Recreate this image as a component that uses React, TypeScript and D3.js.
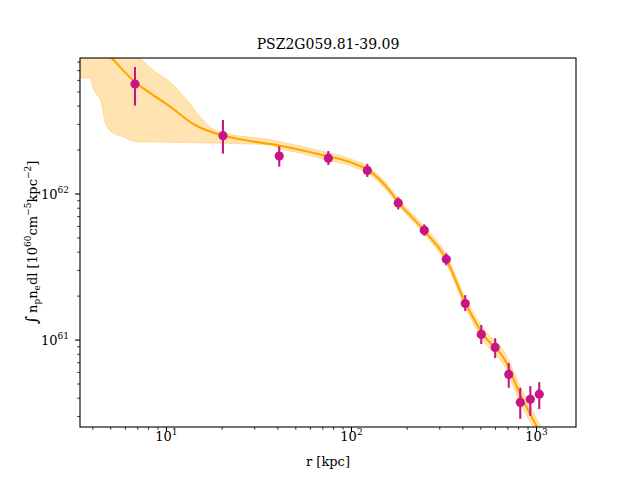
import React from "react";
import * as d3 from "d3";

// Measured emission-measure profile (radius in kpc, values in cm^-5 kpc^-2)
const radius = [6.76, 20.2, 40.7, 75.0, 121.8, 179, 247.5, 325.5, 412, 503, 598, 708, 817, 926, 1035];
const value = [5.67e62, 2.51e62, 1.82e62, 1.76e62, 1.45e62, 8.68e61, 5.64e61, 3.57e61, 1.78e61, 1.094e61, 8.9e60, 5.82e60, 3.74e60, 3.93e60, 4.26e60];
const valueLow = [4.03e62, 1.89e62, 1.54e62, 1.58e62, 1.31e62, 7.85e61, 5.18e61, 3.25e61, 1.58e61, 9.4e60, 7.53e60, 4.71e60, 2.89e60, 3.03e60, 3.37e60];
const valueHigh = [7.4e62, 3.21e62, 2.13e62, 1.97e62, 1.61e62, 9.5e61, 6.2e61, 3.93e61, 2.03e61, 1.267e61, 1.03e61, 6.96e60, 4.71e60, 4.84e60, 5.15e60];

// Best-fit model curve
const modelR = [4.108, 5.057, 6.755, 8.14, 10.45, 14.26, 20.2, 28.3, 40.55, 74.6, 92.2, 104.4, 121.3, 142.6, 161.5, 178.4, 246.6, 324.2, 410.8, 513.7, 675.3, 824.6, 1006, 1112];
const modelY = [1.117e63, 8.54e62, 5.85e62, 4.92e62, 3.97e62, 2.97e62, 2.515e62, 2.31e62, 2.15e62, 1.81e62, 1.696e62, 1.605e62, 1.484e62, 1.247e62, 1.048e62, 8.885e61, 5.623e61, 3.61e61, 1.82e61, 1.099e61, 7.3e60, 4.13e60, 2.54e60, 1.97e60];

// Model uncertainty envelope
const bandR = [3.41, 3.86, 4.02, 4.46, 4.65, 5.16, 5.84, 6.35, 7.19, 8.45, 10.45, 12.86, 15.18, 17.84, 20.2, 28.3, 36.3, 40.55, 52.7, 74.6, 92.2, 104.4, 121.3, 142.6, 161.5, 178.4, 246.6, 324.2, 410.8, 513.7, 675.3, 824.6, 1006, 1112];
const bandLow = [6.26e62, 6.23e62, 5.3e62, 4.18e62, 3.13e62, 2.605e62, 2.47e62, 2.34e62, 2.27e62, 2.27e62, 2.26e62, 2.25e62, 2.245e62, 2.235e62, 2.225e62, 2.2e62, 2.166e62, 2.05e62, 1.91e62, 1.696e62, 1.605e62, 1.519e62, 1.404e62, 1.18e62, 9.92e61, 8.41e61, 5.32e61, 3.37e61, 1.683e61, 1.0e61, 6.53e60, 3.645e60, 2.23e60, 1.71e60];
const bandHigh = [1.94e63, 1.68e63, 1.606e63, 1.437e63, 1.371e63, 1.228e63, 1.064e63, 9.68e62, 8.54e62, 7.06e62, 5.85e62, 4.4e62, 3.38e62, 2.786e62, 2.618e62, 2.455e62, 2.36e62, 2.29e62, 2.133e62, 1.923e62, 1.792e62, 1.696e62, 1.567e62, 1.318e62, 1.108e62, 9.39e61, 6.04e61, 3.88e61, 1.97e61, 1.208e61, 8.15e60, 4.69e60, 2.88e60, 2.27e60];

const xDomain = [3.41, 1635];
const yDomain = [2.54e60, 8.54e62];
const xMajor = [10, 100, 1000];
const xMajorExp = ["1", "2", "3"];
const yMajor = [1e61, 1e62];
const yMajorExp = ["61", "62"];

const title = "PSZ2G059.81-39.09";

const FONT = "DejaVu Serif";
const ORANGE = "#FFA500";
const MAGENTA = "#C71585";

export default function App() {
  const left = 80, right = 576, top = 58, bottom = 427;
  const x = d3.scaleLog().domain(xDomain).range([left, right]);
  const y = d3.scaleLog().domain(yDomain).range([bottom, top]);

  const xMinor: number[] = [];
  [1, 10, 100, 1000].forEach((dec) => {
    for (let k = 2; k <= 9; k++) {
      const v = dec * k;
      if (v >= xDomain[0] && v <= xDomain[1]) xMinor.push(v);
    }
  });
  const yMinor: number[] = [];
  [1e60, 1e61, 1e62].forEach((dec) => {
    for (let k = 2; k <= 9; k++) {
      const v = dec * k;
      if (v >= yDomain[0] && v <= yDomain[1]) yMinor.push(v);
    }
  });

  const area = d3
    .area<number>()
    .x((_, i) => x(bandR[i]))
    .y0((_, i) => y(bandLow[i]))
    .y1((_, i) => y(bandHigh[i]))
    .curve(d3.curveMonotoneX);
  const bandPath = area(bandR) || "";

  const line = d3
    .line<number>()
    .x((_, i) => x(modelR[i]))
    .y((d) => y(d))
    .curve(d3.curveMonotoneX);
  const linePath = line(modelY) || "";

  const textStyle = { fontFamily: FONT };

  return (
    <svg
      width={640}
      height={480}
      style={{ position: "absolute", left: 0, top: 0, background: "#fff", fontFamily: FONT }}
    >
      <defs>
        <clipPath id="plot-area">
          <rect x={left} y={top} width={right - left} height={bottom - top} />
        </clipPath>
      </defs>
      <rect x={0} y={0} width={640} height={480} fill="#fff" />

      <g clipPath="url(#plot-area)">
        <path d={bandPath} fill={ORANGE} fillOpacity={0.3} stroke={ORANGE} strokeOpacity={0.3} strokeWidth={1} />
        <path d={linePath} fill="none" stroke={ORANGE} strokeWidth={2.1} />
        {radius.map((r, i) => (
          <g key={i}>
            <line x1={x(r)} x2={x(r)} y1={y(valueLow[i])} y2={y(valueHigh[i])} stroke={MAGENTA} strokeWidth={2.1} />
            <circle cx={x(r)} cy={y(value[i])} r={4.6} fill={MAGENTA} />
          </g>
        ))}
      </g>

      {/* axes frame */}
      <rect x={left} y={top} width={right - left} height={bottom - top} fill="none" stroke="#000" strokeWidth={1.1} />

      {/* x ticks */}
      {xMinor.map((v) => (
        <line key={"xm" + v} x1={x(v)} x2={x(v)} y1={bottom} y2={bottom + 2.8} stroke="#000" strokeWidth={0.8} />
      ))}
      {xMajor.map((v, i) => (
        <g key={"xM" + v}>
          <line x1={x(v)} x2={x(v)} y1={bottom} y2={bottom + 4.9} stroke="#000" strokeWidth={1.1} />
          <text x={x(v)} y={441} textAnchor="middle" fontSize={13} style={textStyle}>
            10
            <tspan dy={-6} fontSize={9}>{xMajorExp[i]}</tspan>
          </text>
        </g>
      ))}

      {/* y ticks */}
      {yMinor.map((v) => (
        <line key={"ym" + v} x1={left} x2={left - 2.8} y1={y(v)} y2={y(v)} stroke="#000" strokeWidth={0.8} />
      ))}
      {yMajor.map((v, i) => (
        <g key={"yM" + v}>
          <line x1={left} x2={left - 4.9} y1={y(v)} y2={y(v)} stroke="#000" strokeWidth={1.1} />
          <text x={69} y={y(v) + 4.5} textAnchor="end" fontSize={13} style={textStyle}>
            10
            <tspan dy={-6} fontSize={9}>{yMajorExp[i]}</tspan>
          </text>
        </g>
      ))}

      {/* title */}
      <text x={(left + right) / 2} y={49} textAnchor="middle" fontSize={14} style={textStyle}>
        {title}
      </text>

      {/* x label */}
      <text x={(left + right) / 2} y={466} textAnchor="middle" fontSize={13} style={textStyle}>
        r [kpc]
      </text>

      {/* y label */}
      <text
        transform={`translate(37, ${(top + bottom) / 2}) rotate(-90)`}
        textAnchor="middle"
        fontSize={13}
        style={textStyle}
      >
        <tspan fontSize={16}>∫</tspan>
        <tspan dx={3}>n</tspan>
        <tspan dy={3} fontSize={9}>p</tspan>
        <tspan dy={-3}>n</tspan>
        <tspan dy={3} fontSize={9}>e</tspan>
        <tspan dy={-3}>dl [10</tspan>
        <tspan dy={-6} fontSize={9}>60</tspan>
        <tspan dy={6}>cm</tspan>
        <tspan dy={-6} fontSize={9}>−5</tspan>
        <tspan dy={6}>kpc</tspan>
        <tspan dy={-6} fontSize={9}>−2</tspan>
        <tspan dy={6}>]</tspan>
      </text>
    </svg>
  );
}
